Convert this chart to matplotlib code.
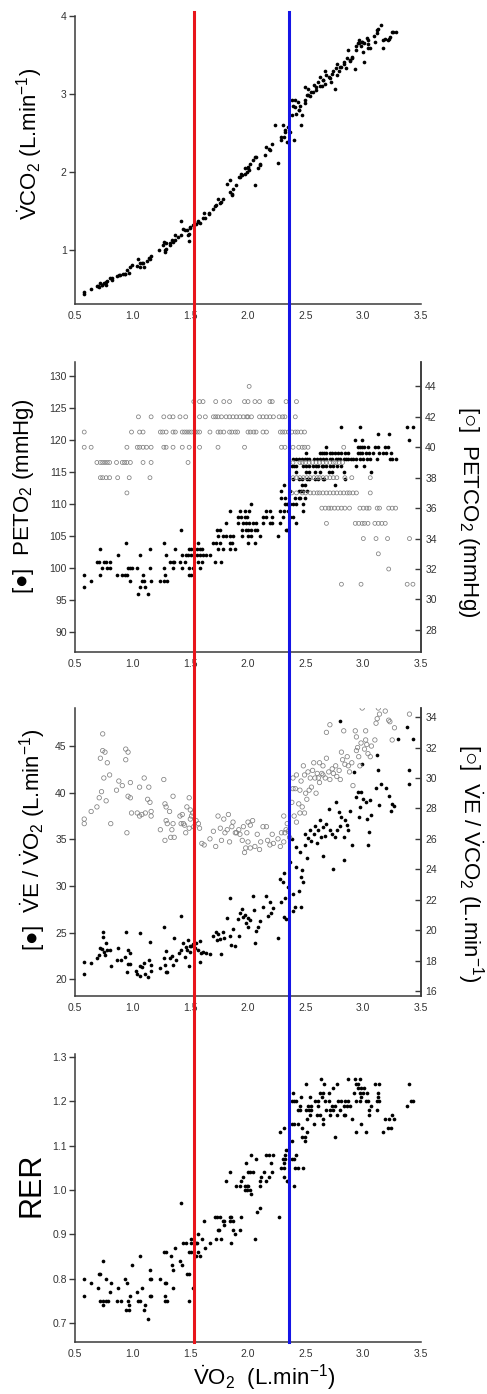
"""Four stacked CPET panels vs VO2 with two threshold lines."""

import matplotlib

matplotlib.use("Agg")
import matplotlib.pyplot as plt
import matplotlib.transforms as mtransforms
import numpy as np
from matplotlib.lines import Line2D

plt.rcParams["font.family"] = ["Liberation Sans", "DejaVu Sans"]
plt.rcParams["mathtext.fontset"] = "custom"
plt.rcParams["mathtext.rm"] = "Liberation Sans"
plt.rcParams["mathtext.it"] = "Liberation Sans:italic"
plt.rcParams["mathtext.bf"] = "Liberation Sans:bold"

# thresholds (VO2, L/min)
vt1 = 1.53
vt2 = 2.355

x_ticks = [0.5, 1.0, 1.5, 2.0, 2.5, 3.0, 3.5]

# VCO2 vs VO2
vco2 = [
    (0.58, 0.44), (0.58, 0.47), (0.64, 0.50), (0.69, 0.54), (0.70, 0.54), (0.71, 0.53),
    (0.73, 0.56), (0.72, 0.58), (0.73, 0.56), (0.75, 0.58), (0.77, 0.55), (0.77, 0.59),
    (0.78, 0.60), (0.80, 0.64), (0.82, 0.62), (0.82, 0.64), (0.86, 0.67), (0.88, 0.68),
    (0.89, 0.68), (0.92, 0.69), (0.93, 0.69), (0.93, 0.70), (0.95, 0.74), (0.97, 0.71),
    (0.98, 0.79), (0.99, 0.81), (1.04, 0.80), (1.05, 0.89), (1.06, 0.84), (1.06, 0.79),
    (1.08, 0.83), (1.09, 0.83), (1.10, 0.79), (1.12, 0.86), (1.14, 0.90), (1.15, 0.89),
    (1.16, 0.92), (1.23, 1.00), (1.26, 1.07), (1.27, 1.11), (1.28, 0.98), (1.28, 1.00),
    (1.29, 1.02), (1.29, 1.09), (1.32, 1.06), (1.32, 1.09), (1.34, 1.13), (1.35, 1.11),
    (1.37, 1.19), (1.37, 1.13), (1.39, 1.17), (1.42, 1.38), (1.42, 1.19), (1.44, 1.27),
    (1.45, 1.26), (1.47, 1.26), (1.48, 1.19), (1.49, 1.12), (1.49, 1.21), (1.50, 1.30),
    (1.50, 1.28), (1.52, 1.32), (1.55, 1.34), (1.57, 1.38), (1.57, 1.36), (1.58, 1.35),
    (1.61, 1.41), (1.62, 1.47), (1.63, 1.41), (1.66, 1.46), (1.66, 1.47), (1.70, 1.53),
    (1.71, 1.56), (1.72, 1.58), (1.74, 1.65), (1.76, 1.60), (1.77, 1.62), (1.78, 1.66),
    (1.82, 1.85), (1.84, 1.90), (1.84, 1.75), (1.86, 1.72), (1.86, 1.71), (1.87, 1.79),
    (1.90, 1.83), (1.92, 1.94), (1.93, 1.94), (1.94, 1.98), (1.95, 1.96), (1.97, 2.05),
    (1.97, 1.98), (1.99, 2.00), (2.00, 2.07), (2.00, 2.05), (2.01, 2.03), (2.02, 2.11),
    (2.04, 2.15), (2.06, 1.83), (2.06, 2.20), (2.07, 2.20), (2.09, 2.05), (2.10, 2.09),
    (2.10, 2.11), (2.15, 2.22), (2.16, 2.32), (2.18, 2.30), (2.19, 2.28), (2.21, 2.36),
    (2.23, 2.60), (2.26, 2.12), (2.29, 2.41), (2.29, 2.45), (2.31, 2.45), (2.30, 2.60),
    (2.32, 2.54), (2.32, 2.52), (2.34, 2.39), (2.35, 2.58), (2.36, 2.52), (2.38, 2.73),
    (2.38, 2.92), (2.39, 2.85), (2.40, 2.41), (2.41, 2.92), (2.41, 2.84), (2.42, 2.75),
    (2.43, 2.90), (2.44, 2.79), (2.44, 2.80), (2.45, 2.85), (2.46, 2.60), (2.47, 2.73),
    (2.49, 2.92), (2.49, 3.09), (2.49, 2.88), (2.51, 2.99), (2.52, 3.06), (2.52, 2.99),
    (2.54, 2.97), (2.55, 3.03), (2.56, 3.03), (2.57, 3.12), (2.59, 3.09), (2.59, 3.05),
    (2.61, 3.16), (2.62, 3.22), (2.62, 3.10), (2.64, 3.10), (2.65, 3.18), (2.65, 3.18),
    (2.67, 3.29), (2.67, 3.13), (2.68, 3.24), (2.70, 3.22), (2.71, 3.20), (2.72, 3.16),
    (2.73, 3.26), (2.74, 3.29), (2.75, 3.07), (2.76, 3.33), (2.77, 3.39), (2.77, 3.24),
    (2.79, 3.29), (2.80, 3.35), (2.81, 3.35), (2.83, 3.41), (2.83, 3.39), (2.85, 3.33),
    (2.86, 3.46), (2.87, 3.57), (2.88, 3.43), (2.88, 3.44), (2.90, 3.48), (2.90, 3.46),
    (2.93, 3.32), (2.94, 3.56), (2.94, 3.61), (2.95, 3.65), (2.96, 3.69), (2.96, 3.65),
    (2.98, 3.62), (2.99, 3.67), (2.99, 3.67), (3.00, 3.54), (3.01, 3.41), (3.01, 3.65),
    (3.03, 3.72), (3.04, 3.64), (3.04, 3.69), (3.04, 3.59), (3.06, 3.59), (3.09, 3.74),
    (3.10, 3.67), (3.12, 3.78), (3.12, 3.82), (3.13, 3.84), (3.15, 3.88), (3.17, 3.59),
    (3.17, 3.69), (3.19, 3.71), (3.21, 3.69), (3.22, 3.71), (3.23, 3.73), (3.25, 3.80),
    (3.26, 3.80), (3.28, 3.80),
]

# PETO2 (filled, left axis, mmHg)
peto2 = [
    (1.05, 96), (1.13, 96),
    (0.58, 97), (1.06, 97), (1.11, 97),
    (0.64, 98), (0.98, 98), (1.08, 98), (1.10, 98), (1.16, 98), (1.24, 98), (1.27, 98), (1.30, 98),
    (0.58, 99), (0.72, 99), (0.86, 99), (0.91, 99), (0.93, 99), (0.95, 99), (1.09, 99),
    (1.28, 99), (1.49, 99), (1.51, 99),
    (0.73, 100), (0.78, 100), (0.80, 100), (0.96, 100), (0.98, 100), (0.99, 100), (1.04, 100),
    (1.15, 100), (1.27, 100), (1.35, 100), (1.43, 100), (1.49, 100), (1.52, 100), (1.58, 100),
    (0.69, 101), (0.71, 101), (0.75, 101), (0.77, 101), (0.80, 101), (1.32, 101), (1.35, 101),
    (1.36, 101), (1.41, 101), (1.45, 101), (1.57, 101), (1.60, 101), (1.71, 101), (1.77, 101),
    (0.87, 102), (1.06, 102), (1.29, 102), (1.43, 102), (1.46, 102), (1.48, 102), (1.51, 102),
    (1.56, 102), (1.58, 102), (1.61, 102), (1.64, 102), (1.67, 102),
    (0.72, 103), (1.15, 103), (1.37, 103), (1.49, 103), (1.51, 103), (1.53, 103), (1.56, 103),
    (1.58, 103), (1.60, 103), (1.74, 103), (1.78, 103), (1.84, 103), (1.89, 103),
    (0.94, 104), (1.27, 104), (1.57, 104), (1.70, 104), (1.72, 104), (1.76, 104), (1.84, 104),
    (1.86, 104), (2.00, 104), (2.06, 104),
    (1.74, 105), (1.78, 105), (1.81, 105), (1.84, 105), (1.87, 105), (1.95, 105), (2.00, 105),
    (2.03, 105), (2.10, 105), (2.26, 105),
    (1.42, 106), (1.73, 106), (1.76, 106), (1.95, 106), (1.98, 106), (2.00, 106), (2.03, 106),
    (2.06, 106), (2.08, 106), (2.33, 106), (2.34, 106),
    (1.81, 107), (1.91, 107), (1.96, 107), (1.98, 107), (2.01, 107), (2.04, 107), (2.07, 107),
    (2.13, 107), (2.19, 107), (2.21, 107), (2.28, 107), (2.42, 107),
    (1.91, 108), (1.94, 108), (1.97, 108), (1.99, 108), (2.13, 108), (2.16, 108), (2.21, 108),
    (2.30, 108), (2.36, 108), (2.39, 108),
    (1.84, 109), (1.93, 109), (1.97, 109), (2.01, 109), (2.16, 109), (2.19, 109), (2.28, 109),
    (2.31, 109), (2.35, 109), (2.48, 109),
    (2.03, 110), (2.32, 110), (2.34, 110), (2.36, 110), (2.39, 110), (2.42, 110), (2.48, 110),
    (2.29, 111), (2.32, 111), (2.41, 111), (2.44, 111), (2.45, 111), (2.49, 111),
    (2.29, 112), (2.36, 112), (2.44, 112), (2.46, 112), (2.48, 112), (2.51, 112),
    (2.31, 113), (2.47, 113), (2.49, 113), (2.75, 113),
    (2.39, 114), (2.44, 114), (2.47, 114), (2.51, 114), (2.53, 114), (2.58, 114), (2.61, 114),
    (2.65, 114), (2.66, 114), (2.84, 114),
    (2.42, 115), (2.50, 115), (2.53, 115), (2.58, 115), (2.62, 115), (2.70, 115), (2.73, 115),
    (2.83, 115), (3.07, 115),
    (2.38, 116), (2.40, 116), (2.42, 116), (2.48, 116), (2.50, 116), (2.53, 116), (2.56, 116),
    (2.59, 116), (2.61, 116), (2.64, 116), (2.65, 116), (2.68, 116), (2.71, 116), (2.74, 116),
    (2.77, 116), (2.81, 116), (2.94, 116), (3.01, 116),
    (2.39, 117), (2.42, 117), (2.44, 117), (2.47, 117), (2.49, 117), (2.51, 117), (2.53, 117),
    (2.57, 117), (2.60, 117), (2.62, 117), (2.65, 117), (2.68, 117), (2.71, 117), (2.73, 117),
    (2.76, 117), (2.78, 117), (2.80, 117), (2.83, 117), (2.85, 117), (2.87, 117), (2.89, 117),
    (2.91, 117), (2.94, 117), (2.97, 117), (3.00, 117), (3.03, 117), (3.06, 117), (3.12, 117),
    (3.23, 117), (3.25, 117), (3.28, 117),
    (2.50, 118), (2.62, 118), (2.64, 118), (2.66, 118), (2.68, 118), (2.71, 118), (2.73, 118),
    (2.75, 118), (2.78, 118), (2.81, 118), (2.84, 118), (2.87, 118), (2.95, 118), (2.97, 118),
    (2.99, 118), (3.02, 118), (3.05, 118), (3.08, 118), (3.14, 118), (3.17, 118), (3.20, 118),
    (3.24, 118),
    (2.68, 119), (2.95, 119), (2.97, 119), (2.99, 119), (3.01, 119), (3.04, 119), (3.10, 119),
    (3.13, 119), (3.19, 119), (3.21, 119),
    (2.93, 120), (2.99, 120), (3.40, 120),
    (3.13, 121), (3.22, 121),
    (2.81, 122), (2.97, 122), (3.38, 122), (3.43, 122),
]

# PETCO2 (open, right axis, mmHg)
petco2 = [
    (2.01, 44),
    (1.53, 43), (1.58, 43), (1.61, 43), (1.72, 43), (1.79, 43), (1.84, 43), (1.97, 43),
    (2.00, 43), (2.06, 43), (2.10, 43), (2.19, 43), (2.21, 43), (2.33, 43), (2.42, 43),
    (1.05, 42), (1.16, 42), (1.27, 42), (1.32, 42), (1.35, 42), (1.41, 42), (1.46, 42),
    (1.58, 42), (1.63, 42), (1.70, 42), (1.72, 42), (1.74, 42), (1.77, 42), (1.81, 42),
    (1.84, 42), (1.87, 42), (1.90, 42), (1.93, 42), (1.96, 42), (1.99, 42), (2.00, 42),
    (2.03, 42), (2.10, 42), (2.13, 42), (2.16, 42), (2.19, 42), (2.22, 42), (2.27, 42),
    (2.30, 42), (2.32, 42), (2.41, 42),
    (0.58, 41), (0.99, 41), (1.06, 41), (1.09, 41), (1.24, 41), (1.26, 41), (1.29, 41),
    (1.35, 41), (1.37, 41), (1.43, 41), (1.45, 41), (1.47, 41), (1.49, 41), (1.51, 41),
    (1.54, 41), (1.56, 41), (1.58, 41), (1.67, 41), (1.74, 41), (1.76, 41), (1.79, 41),
    (1.84, 41), (1.86, 41), (1.89, 41), (1.91, 41), (2.00, 41), (2.02, 41), (2.05, 41),
    (2.07, 41), (2.13, 41), (2.16, 41), (2.28, 41), (2.30, 41), (2.32, 41), (2.35, 41),
    (2.38, 41), (2.41, 41), (2.43, 41), (2.46, 41), (2.49, 41),
    (0.58, 40), (0.64, 40), (0.95, 40), (1.04, 40), (1.06, 40), (1.09, 40), (1.12, 40),
    (1.16, 40), (1.27, 40), (1.29, 40), (1.35, 40), (1.43, 40), (1.49, 40), (1.58, 40),
    (1.74, 40), (1.97, 40), (2.29, 40), (2.32, 40), (2.39, 40), (2.44, 40), (2.47, 40),
    (2.49, 40), (2.52, 40), (2.83, 40),
    (0.69, 39), (0.72, 39), (0.74, 39), (0.76, 39), (0.78, 39), (0.80, 39), (0.86, 39),
    (0.91, 39), (0.93, 39), (0.95, 39), (0.98, 39), (1.09, 39), (1.16, 39), (1.48, 39),
    (2.39, 39), (2.45, 39), (2.47, 39), (2.50, 39), (2.53, 39), (2.56, 39), (2.59, 39),
    (2.62, 39), (2.65, 39), (2.68, 39), (2.71, 39), (2.74, 39), (2.76, 39), (2.79, 39),
    (2.82, 39),
    (0.72, 38), (0.74, 38), (0.77, 38), (0.80, 38), (0.87, 38), (0.97, 38), (1.15, 38),
    (2.39, 38), (2.42, 38), (2.45, 38), (2.48, 38), (2.51, 38), (2.54, 38), (2.57, 38),
    (2.60, 38), (2.62, 38), (2.65, 38), (2.68, 38), (2.71, 38), (2.74, 38), (2.77, 38),
    (2.84, 38), (2.90, 38), (3.06, 38),
    (0.95, 37), (2.38, 37), (2.42, 37), (2.47, 37), (2.50, 37), (2.54, 37), (2.57, 37),
    (2.60, 37), (2.62, 37), (2.65, 37), (2.68, 37), (2.71, 37), (2.74, 37), (2.77, 37),
    (2.80, 37), (2.83, 37), (2.86, 37), (2.88, 37), (2.91, 37), (2.94, 37), (3.06, 37),
    (2.64, 36), (2.67, 36), (2.70, 36), (2.72, 36), (2.75, 36), (2.78, 36), (2.81, 36),
    (2.84, 36), (2.88, 36), (2.97, 36), (3.00, 36), (3.03, 36), (3.05, 36), (3.12, 36),
    (3.14, 36), (3.22, 36), (3.25, 36), (3.28, 36),
    (2.68, 35), (2.93, 35), (2.96, 35), (2.99, 35), (3.01, 35), (3.04, 35), (3.10, 35),
    (3.13, 35), (3.16, 35), (3.19, 35),
    (3.00, 34), (3.11, 34), (3.21, 34), (3.40, 34),
    (3.13, 33),
    (3.22, 32),
    (2.81, 31), (2.98, 31), (3.38, 31), (3.43, 31),
]

# VE/VO2 (filled, left axis)
ve_vo2 = [
    (0.58, 21.9), (0.58, 20.6), (0.64, 21.7), (0.69, 22.3), (0.71, 22.6), (0.72, 23.4),
    (0.73, 23.2), (0.74, 24.5), (0.74, 25.1), (0.75, 22.9), (0.76, 22.6), (0.77, 23.9),
    (0.78, 23.1), (0.80, 23.1), (0.81, 21.4), (0.86, 22.1), (0.87, 23.3), (0.90, 22.1),
    (0.93, 22.4), (0.94, 25.1), (0.95, 20.8), (0.96, 21.6), (0.96, 23.1), (0.98, 21.6),
    (0.98, 22.8), (1.03, 20.9), (1.04, 20.6), (1.06, 25.0), (1.06, 21.4), (1.06, 20.4),
    (1.08, 21.3), (1.10, 21.7), (1.11, 20.6), (1.13, 20.2), (1.14, 22.1), (1.15, 24.0),
    (1.16, 21.5), (1.16, 20.9), (1.24, 21.2), (1.27, 25.6), (1.27, 22.3), (1.28, 21.5),
    (1.29, 20.8), (1.29, 23.0), (1.30, 20.8), (1.32, 22.3), (1.34, 22.5), (1.35, 21.5),
    (1.36, 24.4), (1.38, 22.1), (1.40, 22.8), (1.42, 26.8), (1.42, 23.1), (1.44, 23.9),
    (1.45, 22.4), (1.46, 23.5), (1.47, 23.1), (1.48, 24.2), (1.49, 21.4), (1.50, 23.6),
    (1.50, 22.9), (1.51, 23.6), (1.52, 23.8), (1.54, 23.4), (1.55, 23.9), (1.57, 23.1),
    (1.58, 21.9), (1.58, 24.1), (1.59, 22.8), (1.61, 22.9), (1.64, 22.8), (1.67, 22.7),
    (1.70, 24.6), (1.72, 25.1), (1.73, 24.2), (1.74, 24.9), (1.76, 24.3), (1.77, 22.7),
    (1.78, 25.1), (1.79, 24.4), (1.82, 26.6), (1.84, 28.7), (1.84, 24.6), (1.85, 23.7),
    (1.87, 25.4), (1.89, 23.6), (1.91, 26.5), (1.92, 24.6), (1.93, 27.1), (1.95, 27.5),
    (1.96, 26.7), (1.97, 26.9), (1.98, 26.0), (2.00, 26.6), (2.00, 25.6), (2.02, 26.4),
    (2.04, 28.9), (2.05, 27.4), (2.06, 23.9), (2.07, 25.2), (2.09, 25.6), (2.10, 26.2),
    (2.13, 27.8), (2.16, 28.9), (2.17, 26.8), (2.19, 28.3), (2.20, 27.1), (2.22, 27.6),
    (2.26, 24.4), (2.28, 30.8), (2.29, 28.3), (2.30, 30.4), (2.31, 26.7), (2.31, 31.4),
    (2.32, 28.7), (2.33, 26.5), (2.35, 29.9), (2.36, 32.6), (2.38, 35.0), (2.39, 29.1),
    (2.39, 27.3), (2.41, 27.8), (2.42, 32.0), (2.42, 34.2), (2.44, 29.5), (2.45, 33.7),
    (2.46, 31.0), (2.46, 27.8), (2.47, 31.7), (2.48, 30.4), (2.49, 35.6), (2.49, 34.4),
    (2.51, 33.0), (2.52, 35.1), (2.54, 36.0), (2.55, 34.8), (2.57, 35.6), (2.58, 36.4),
    (2.60, 34.6), (2.61, 36.0), (2.62, 37.1), (2.63, 35.3), (2.65, 33.2), (2.65, 36.3),
    (2.67, 35.4), (2.68, 36.7), (2.70, 38.3), (2.71, 36.0), (2.73, 35.6), (2.74, 31.8),
    (2.75, 35.3), (2.76, 39.0), (2.77, 36.0), (2.79, 37.9), (2.80, 36.4), (2.80, 47.7),
    (2.81, 37.4), (2.83, 35.3), (2.83, 32.8), (2.84, 37.1), (2.86, 36.5), (2.87, 36.0),
    (2.88, 38.0), (2.90, 34.4), (2.92, 42.2), (2.94, 39.6), (2.95, 40.1), (2.96, 37.4),
    (2.97, 38.5), (2.98, 40.1), (2.99, 43.1), (3.00, 39.3), (3.02, 39.0), (3.03, 37.2),
    (3.04, 34.4), (3.05, 35.8), (3.06, 39.2), (3.07, 37.6), (3.11, 40.5), (3.12, 44.1),
    (3.13, 42.4), (3.14, 38.7), (3.15, 40.9), (3.20, 40.5), (3.22, 39.7), (3.24, 38.1),
    (3.25, 38.8), (3.27, 38.6), (3.30, 45.8), (3.38, 47.1), (3.40, 42.4), (3.40, 40.9),
    (3.43, 45.8),
]

# VE/VCO2 (open, right axis)
ve_vco2 = [
    (0.58, 27.3), (0.58, 27.0), (0.64, 27.8), (0.69, 28.1), (0.71, 28.7), (0.72, 31.3),
    (0.73, 29.1), (0.74, 32.9), (0.74, 31.8), (0.75, 30.0), (0.76, 31.7), (0.77, 28.5),
    (0.78, 31.0), (0.80, 30.2), (0.81, 27.0), (0.86, 29.2), (0.88, 29.8), (0.91, 29.5),
    (0.94, 31.2), (0.94, 31.9), (0.95, 26.4), (0.96, 31.7), (0.96, 28.8), (0.98, 28.7),
    (0.98, 29.7), (0.99, 27.7), (1.04, 27.7), (1.06, 29.4), (1.06, 27.5), (1.08, 27.6),
    (1.10, 30.0), (1.11, 27.7), (1.13, 28.6), (1.14, 29.4), (1.15, 28.4), (1.16, 27.8),
    (1.16, 27.5), (1.24, 26.6), (1.27, 29.9), (1.28, 25.9), (1.28, 28.3), (1.29, 28.1),
    (1.29, 27.2), (1.30, 27.0), (1.32, 27.8), (1.33, 26.1), (1.34, 26.6), (1.35, 27.0),
    (1.35, 28.8), (1.36, 26.1), (1.41, 27.5), (1.42, 27.0), (1.43, 27.6), (1.44, 27.0),
    (1.45, 26.9), (1.46, 26.4), (1.47, 28.1), (1.49, 28.7), (1.49, 26.7), (1.50, 27.3),
    (1.50, 27.9), (1.51, 27.5), (1.52, 27.7), (1.53, 26.8), (1.55, 27.2), (1.57, 27.0),
    (1.58, 26.7), (1.60, 25.7), (1.62, 25.6), (1.67, 26.0), (1.70, 26.5), (1.72, 25.5),
    (1.74, 27.5), (1.76, 26.7), (1.77, 25.9), (1.79, 27.3), (1.80, 26.4), (1.82, 26.6),
    (1.83, 27.6), (1.84, 25.8), (1.86, 26.8), (1.87, 27.1), (1.89, 26.4), (1.90, 26.4),
    (1.92, 26.6), (1.93, 26.3), (1.95, 25.9), (1.96, 26.8), (1.97, 25.1), (1.98, 25.4),
    (1.99, 26.4), (2.00, 27.1), (2.00, 25.8), (2.02, 25.4), (2.02, 26.9), (2.04, 27.2),
    (2.06, 25.5), (2.08, 26.3), (2.10, 25.3), (2.11, 25.8), (2.13, 26.8), (2.16, 26.8),
    (2.17, 25.9), (2.19, 25.6), (2.21, 26.3), (2.22, 25.7), (2.26, 26.0), (2.28, 25.5),
    (2.29, 26.4), (2.31, 25.8), (2.31, 27.5), (2.32, 26.4), (2.33, 26.6), (2.34, 27.0),
    (2.35, 26.5), (2.36, 26.1), (2.38, 28.4), (2.39, 30.0), (2.39, 29.3), (2.40, 27.5),
    (2.41, 29.3), (2.42, 27.1), (2.42, 30.2), (2.44, 28.3), (2.45, 27.7), (2.45, 29.2),
    (2.46, 29.8), (2.47, 28.1), (2.48, 30.8), (2.49, 27.7), (2.49, 30.2), (2.50, 29.0),
    (2.51, 28.6), (2.52, 30.4), (2.53, 29.2), (2.54, 30.0), (2.55, 29.4), (2.56, 30.5),
    (2.57, 31.0), (2.58, 30.0), (2.59, 29.0), (2.60, 30.3), (2.61, 30.0), (2.62, 31.0),
    (2.62, 29.7), (2.64, 30.3), (2.65, 30.8), (2.65, 30.2), (2.67, 30.0), (2.68, 31.3),
    (2.68, 33.0), (2.70, 30.4), (2.71, 33.5), (2.71, 29.9), (2.73, 30.6), (2.74, 30.3),
    (2.76, 30.8), (2.77, 30.1), (2.79, 30.5), (2.80, 29.9), (2.81, 31.7), (2.82, 31.2),
    (2.83, 33.1), (2.84, 30.9), (2.86, 31.4), (2.87, 30.8), (2.88, 30.4), (2.90, 31.0),
    (2.91, 29.5), (2.93, 33.1), (2.94, 31.8), (2.94, 32.7), (2.95, 32.0), (2.96, 31.4),
    (2.97, 30.8), (2.98, 32.3), (2.99, 34.6), (3.01, 31.9), (3.02, 33.1), (3.02, 32.5),
    (3.03, 32.2), (3.04, 31.6), (3.06, 31.4), (3.07, 32.1), (3.10, 32.5), (3.11, 33.6),
    (3.12, 33.9), (3.13, 34.6), (3.14, 34.2), (3.19, 34.4), (3.22, 33.8), (3.23, 33.7),
    (3.25, 32.5), (3.27, 33.3), (3.40, 34.2),
]

# RER
rer = [
    (0.58, 0.80), (0.58, 0.76), (0.64, 0.79), (0.70, 0.78), (0.71, 0.81), (0.72, 0.81),
    (0.72, 0.75), (0.74, 0.75), (0.74, 0.84), (0.74, 0.74), (0.77, 0.80), (0.77, 0.75),
    (0.79, 0.75), (0.80, 0.77), (0.81, 0.79), (0.86, 0.75), (0.87, 0.78), (0.90, 0.75),
    (0.93, 0.80), (0.95, 0.79), (0.94, 0.73), (0.97, 0.73), (0.96, 0.75), (0.97, 0.74),
    (0.98, 0.76), (0.99, 0.83), (1.04, 0.77), (1.05, 0.75), (1.06, 0.75), (1.06, 0.85),
    (1.08, 0.78), (1.10, 0.73), (1.11, 0.74), (1.13, 0.71), (1.15, 0.82), (1.15, 0.80),
    (1.16, 0.80), (1.15, 0.76), (1.16, 0.76), (1.24, 0.80), (1.27, 0.86), (1.29, 0.86),
    (1.28, 0.79), (1.29, 0.79), (1.28, 0.76), (1.28, 0.75), (1.30, 0.75), (1.33, 0.85),
    (1.34, 0.83), (1.35, 0.78), (1.35, 0.82), (1.37, 0.87), (1.41, 0.84), (1.42, 0.97),
    (1.43, 0.83), (1.44, 0.88), (1.46, 0.88), (1.47, 0.81), (1.49, 0.81), (1.49, 0.75),
    (1.49, 0.86), (1.51, 0.86), (1.51, 0.89), (1.51, 0.88), (1.52, 0.78), (1.55, 0.88),
    (1.56, 0.88), (1.55, 0.85), (1.58, 0.85), (1.57, 0.90), (1.57, 0.86), (1.60, 0.89),
    (1.62, 0.93), (1.63, 0.87), (1.67, 0.88), (1.71, 0.94), (1.73, 0.94), (1.76, 0.94),
    (1.72, 0.89), (1.74, 0.91), (1.75, 0.91), (1.77, 0.89), (1.78, 0.93), (1.79, 0.93),
    (1.79, 0.92), (1.81, 1.02), (1.84, 1.04), (1.84, 0.94), (1.85, 0.94), (1.84, 0.93),
    (1.87, 0.93), (1.85, 0.88), (1.87, 0.91), (1.89, 0.90), (1.90, 1.01), (1.93, 1.01),
    (1.93, 0.91), (1.94, 1.02), (1.94, 0.94), (1.96, 1.03), (1.98, 1.06), (1.97, 1.01),
    (1.99, 1.01), (2.00, 1.01), (1.97, 1.00), (1.99, 1.00), (2.02, 1.00), (2.00, 1.04),
    (2.02, 1.04), (2.04, 1.04), (2.03, 1.08), (2.03, 0.99), (2.06, 0.89), (2.07, 1.07),
    (2.08, 0.95), (2.10, 0.96), (2.10, 1.01), (2.10, 1.02), (2.11, 1.03), (2.14, 1.04),
    (2.16, 1.08), (2.18, 1.08), (2.22, 1.08), (2.16, 1.02), (2.18, 1.03), (2.20, 1.06),
    (2.21, 1.04), (2.27, 0.94), (2.28, 1.13), (2.31, 1.14), (2.29, 1.05), (2.31, 1.05),
    (2.30, 1.07), (2.32, 1.07), (2.31, 1.06), (2.32, 1.08), (2.31, 1.03), (2.33, 1.09),
    (2.35, 1.09), (2.34, 1.02), (2.35, 1.02), (2.38, 1.11), (2.38, 1.15), (2.40, 1.15),
    (2.38, 1.07), (2.40, 1.07), (2.38, 1.20), (2.40, 1.20), (2.42, 1.20), (2.39, 1.22),
    (2.40, 1.01), (2.41, 1.05), (2.43, 1.05), (2.42, 1.08), (2.43, 1.18), (2.45, 1.18),
    (2.43, 1.15), (2.45, 1.19), (2.46, 1.21), (2.47, 1.14), (2.47, 1.12), (2.49, 1.12),
    (2.48, 1.05), (2.49, 1.11), (2.50, 1.24), (2.50, 1.18), (2.53, 1.18), (2.55, 1.18),
    (2.51, 1.16), (2.51, 1.13), (2.52, 1.19), (2.55, 1.19), (2.54, 1.17), (2.54, 1.21),
    (2.57, 1.15), (2.58, 1.20), (2.61, 1.20), (2.60, 1.17), (2.62, 1.17), (2.61, 1.19),
    (2.62, 1.22), (2.65, 1.22), (2.63, 1.25), (2.64, 1.21), (2.65, 1.16), (2.65, 1.15),
    (2.66, 1.24), (2.67, 1.20), (2.70, 1.20), (2.68, 1.18), (2.71, 1.18), (2.74, 1.18),
    (2.70, 1.22), (2.71, 1.17), (2.73, 1.19), (2.75, 1.19), (2.74, 1.23), (2.75, 1.12),
    (2.77, 1.17), (2.77, 1.24), (2.78, 1.20), (2.81, 1.20), (2.84, 1.20), (2.87, 1.20),
    (2.80, 1.18), (2.83, 1.19), (2.86, 1.19), (2.88, 1.19), (2.83, 1.17), (2.84, 1.17),
    (2.87, 1.25), (2.90, 1.16), (2.92, 1.22), (2.93, 1.25), (2.97, 1.25), (2.94, 1.13),
    (2.94, 1.24), (2.95, 1.24), (2.94, 1.20), (2.97, 1.20), (2.95, 1.23), (2.98, 1.23),
    (3.01, 1.23), (2.97, 1.22), (3.00, 1.22), (3.03, 1.22), (2.98, 1.21), (2.98, 1.15),
    (3.02, 1.13), (3.02, 1.20), (3.04, 1.20), (3.05, 1.18), (3.05, 1.17), (3.07, 1.19),
    (3.10, 1.24), (3.14, 1.24), (3.12, 1.20), (3.14, 1.20), (3.12, 1.18), (3.13, 1.22),
    (3.13, 1.21), (3.17, 1.13), (3.19, 1.16), (3.22, 1.16), (3.21, 1.14), (3.24, 1.14),
    (3.25, 1.17), (3.27, 1.16), (3.38, 1.19), (3.40, 1.24), (3.41, 1.20), (3.43, 1.20),
]

# ---------------------------------------------------------------------------
fig = plt.figure(figsize=(4.87, 13.94), dpi=100)

L, W = 0.154, 0.7105
ax1 = fig.add_axes([L, 0.7819, W, 0.2066])
ax2 = fig.add_axes([L, 0.5323, W, 0.2080])
ax3 = fig.add_axes([L, 0.2855, W, 0.2066])
ax4 = fig.add_axes([L, 0.0373, W, 0.2066])

spine_c = "#3a3a3a"
tick_c = "#333333"
filled = dict(s=7, color="black", linewidths=0, zorder=3)


def hollow(size):
    return dict(s=size, facecolors="none", edgecolors="#808080", linewidths=0.55, zorder=2)


def style(ax, right=False):
    ax.set_xlim(0.5, 3.5)
    ax.set_xticks(x_ticks)
    ax.set_xticklabels([f"{t:.1f}" for t in x_ticks])
    ax.spines["top"].set_visible(False)
    ax.spines["right"].set_visible(right)
    for s in ("left", "bottom", "right"):
        ax.spines[s].set_color(spine_c)
        ax.spines[s].set_linewidth(1.1)
    ax.tick_params(axis="y", direction="out", length=4, width=1, colors=spine_c,
                   labelcolor=tick_c, labelsize=7.5, pad=2)
    ax.tick_params(axis="x", direction="in", length=0, colors=spine_c,
                   labelcolor=tick_c, labelsize=7.5, pad=5)


def style_right(axb):
    for s in ("top", "left", "bottom"):
        axb.spines[s].set_visible(False)
    axb.spines["right"].set_color(spine_c)
    axb.spines["right"].set_linewidth(1.1)
    axb.tick_params(axis="y", direction="in", length=4, width=1, colors=spine_c,
                    labelcolor=tick_c, labelsize=7.5, pad=3)


def pts(data):
    a = np.array(data, dtype=float)
    return a[:, 0], a[:, 1]


# panel 1: VCO2
x, y = pts(vco2)
ax1.scatter(x, y, **filled)
style(ax1)
ax1.set_ylim(0.31, 4.0)
ax1.set_yticks([1, 2, 3, 4])
ax1.text(-0.13, 0.556, r"$\dot{\mathrm{V}}$CO$_2$ (L.min$^{-1}$)", transform=ax1.transAxes,
         rotation=90, ha="center", va="center", fontsize=16)

# panel 2: PETO2 / PETCO2
x, y = pts(peto2)
ax2.scatter(x, y, **filled)
style(ax2, right=True)
ax2.set_ylim(86.9, 132.2)
ax2.set_yticks(np.arange(90, 131, 5))
ax2b = ax2.twinx()
x, y = pts(petco2)
ax2b.scatter(x, y, **hollow(8))
ax2b.set_ylim(26.55, 45.6)
ax2b.set_yticks(np.arange(28, 45, 2))
style_right(ax2b)
ax2.text(-0.15, 0.538, "[●]  PETO$_2$ (mmHg)", transform=ax2.transAxes,
         rotation=90, ha="center", va="center", fontsize=16)
ax2.text(1.136, 0.483, "[○]  PETCO$_2$ (mmHg)", transform=ax2.transAxes,
         rotation=270, ha="center", va="center", fontsize=16)

# panel 3: VE/VO2 / VE/VCO2
x, y = pts(ve_vo2)
ax3.scatter(x, y, **filled)
style(ax3, right=True)
ax3.set_ylim(18.2, 49.1)
ax3.set_yticks(np.arange(20, 46, 5))
ax3b = ax3.twinx()
x, y = pts(ve_vco2)
ax3b.scatter(x, y, **hollow(10))
ax3b.set_ylim(15.67, 34.6)
ax3b.set_yticks(np.arange(16, 35, 2))
style_right(ax3b)
ax3.text(-0.121, 0.542, r"[●]  $\dot{\mathrm{V}}$E / $\dot{\mathrm{V}}$O$_2$ (L.min$^{-1}$)",
         transform=ax3.transAxes, rotation=90, ha="center", va="center", fontsize=16)
ax3.text(1.142, 0.462, r"[○]  $\dot{\mathrm{V}}$E / $\dot{\mathrm{V}}$CO$_2$ (L.min$^{-1}$)",
         transform=ax3.transAxes, rotation=270, ha="center", va="center", fontsize=16)

# panel 4: RER
x, y = pts(rer)
ax4.scatter(x, y, **filled)
style(ax4)
ax4.set_ylim(0.657, 1.307)
rer_ticks = [0.7, 0.8, 0.9, 1.0, 1.1, 1.2, 1.3]
ax4.set_yticks(rer_ticks)
ax4.set_yticklabels([f"{t:.1f}" for t in rer_ticks])
ax4.text(-0.127, 0.545, "RER", transform=ax4.transAxes, rotation=90,
         ha="center", va="center", fontsize=22)
ax4.text(0.546, -0.125, r"$\dot{\mathrm{V}}$O$_2$  (L.min$^{-1}$)", transform=ax4.transAxes,
         ha="center", va="center", fontsize=16)

# threshold lines spanning all panels
tr = mtransforms.blended_transform_factory(ax4.transData, fig.transFigure)
for xv, c in ((vt1, "#e8151b"), (vt2, "#1515e6")):
    fig.add_artist(Line2D([xv, xv], [0.0373, 0.9914], transform=tr, color=c,
                          linewidth=2.2, zorder=10))

fig.savefig("out.png", dpi=100)
